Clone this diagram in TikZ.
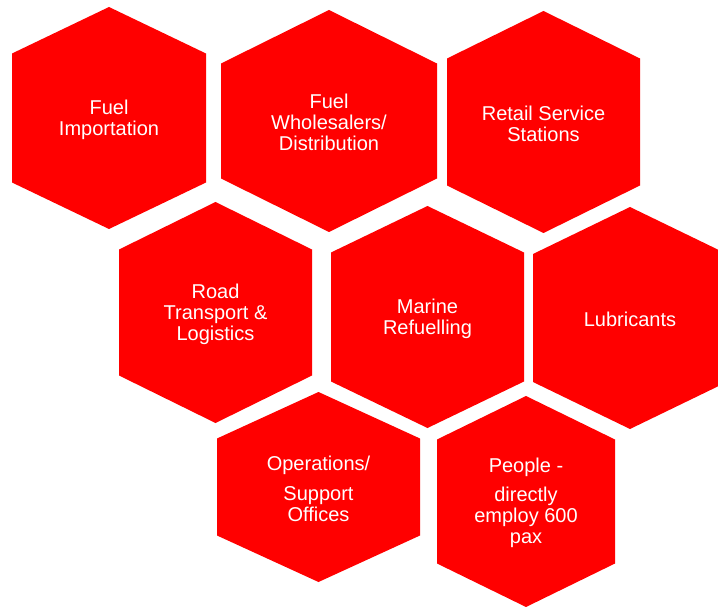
\documentclass[tikz,border=0pt]{standalone}
\usepackage{fontspec}
\setmainfont{Liberation Sans}
\definecolor{hexred}{RGB}{255,0,0}

% one cell: name, centre x, centre y, half width, half height, half side, text
\newcommand{\hexcell}[7]{%
  \fill[hexfill] (#2,#3-#5) -- (#2+#4,#3-#6) -- (#2+#4,#3+#6) -- (#2,#3+#5)
    -- (#2-#4,#3+#6) -- (#2-#4,#3-#6) -- cycle;
  \node[lbl] (#1) at (#2,#3+1.5) {#7};
}

\begin{document}
\begin{tikzpicture}[x=1pt, y=-1pt,
    hexfill/.style = {fill=hexred},
    lbl/.style = {text=white, align=center, inner sep=0pt,
      font=\fontsize{20}{21}\selectfont}
  ]
  \useasboundingbox (0,0) rectangle (718,607);
  \clip (0,0) rectangle (718,607);

  % top row
  \hexcell{import}{109}{118}{97}{111}{64.5}{Fuel\\Importation}
  \hexcell{whole}{329}{121}{108}{111}{57.5}{Fuel\\Wholesalers/\\Distribution}
  \hexcell{retail}{543.5}{122}{96.5}{111}{63.5}{Retail Service\\Stations}

  % middle row
  \hexcell{road}{215.5}{312.5}{96.5}{110.5}{63}{Road\\Transport \&\\Logistics}
  \hexcell{marine}{427.5}{317}{96.5}{111}{64.5}{Marine\\Refuelling}
  \hexcell{lube}{630}{318}{97}{111}{64}{Lubricants}

  % bottom row
  \hexcell{ops}{318.5}{487}{101.5}{95}{48.5}{Operations/\\[9pt]Support\\Offices}
  \hexcell{people}{526}{501.5}{89}{105.5}{62}{People -\\[8pt]directly\\employ 600\\pax}
\end{tikzpicture}
\end{document}
